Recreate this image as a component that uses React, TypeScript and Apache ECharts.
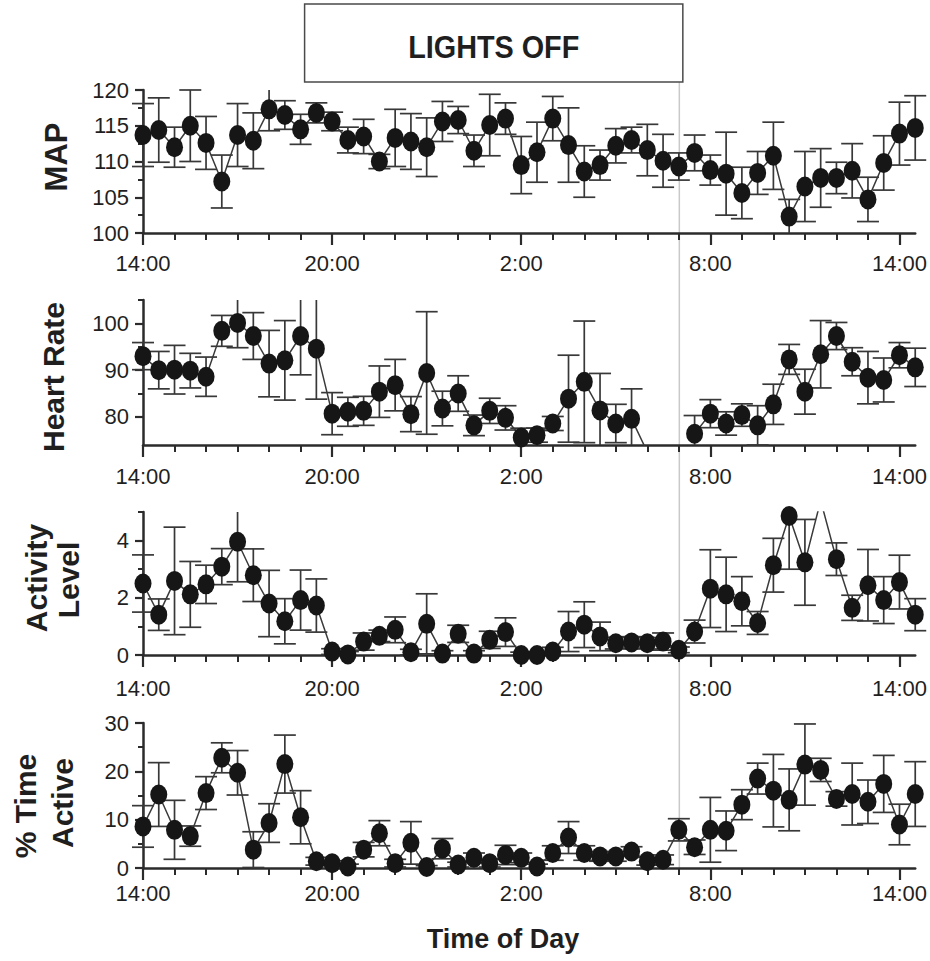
import React, { useEffect, useRef } from "react";
import * as echarts from "echarts";

// Half-hourly sampling, 14:00 on day one through 14:30 on day two (hours since midnight of day one)
const SAMPLE_HOURS: number[] = Array.from({ length: 50 }, (_, i) => 14 + i * 0.5);

const MAJOR_HOURS = [14, 20, 26, 32, 38];
const MINOR_HOURS = [15, 16, 17, 18, 19, 21, 22, 23, 24, 25, 27, 28, 29, 30, 31, 33, 34, 35, 36, 37];
const LIGHTS_OFF_START = 19;
const LIGHTS_OFF_END = 31;

// Mean arterial pressure (mmHg)
const MAP_MEAN = [113.7, 114.4, 112.0, 115.0, 112.6, 107.2, 113.7, 112.9, 117.3, 116.5, 114.5, 116.8, 115.6, 113.0, 113.5, 110.0, 113.3, 112.8, 112.0, 115.6, 115.8, 111.5, 115.1, 116.0, 109.5, 111.3, 116.0, 112.3, 108.6, 109.5, 112.2, 113.0, 111.6, 110.1, 109.3, 111.2, 108.8, 108.3, 105.6, 108.4, 110.8, 102.3, 106.5, 107.7, 107.7, 108.7, 104.7, 109.8, 113.9, 114.7];
const MAP_SEM = [4.4, 4.5, 2.8, 5.0, 3.7, 3.7, 4.4, 3.9, 3.0, 2.0, 2.1, 1.4, 1.3, 1.8, 2.4, 1.0, 4.0, 3.9, 4.1, 2.8, 1.9, 2.2, 4.3, 2.2, 4.0, 4.2, 3.1, 5.2, 3.6, 2.1, 2.4, 1.8, 3.6, 3.7, 1.9, 2.5, 2.1, 5.8, 3.6, 3.0, 4.7, 2.4, 4.9, 4.1, 2.2, 3.8, 3.1, 3.8, 4.4, 4.5];

// Heart rate (bpm); low values around dawn fall below the axis floor
const HR_MEAN = [93.0, 90.0, 90.1, 89.9, 88.6, 98.4, 100.1, 97.3, 91.4, 92.1, 97.3, 94.6, 80.7, 81.1, 81.3, 85.4, 86.8, 80.6, 89.4, 81.8, 85.0, 78.2, 81.3, 79.8, 75.6, 76.1, 78.6, 83.9, 87.5, 81.4, 78.6, 79.6, 72.5, null, null, 76.4, 80.7, 78.6, 80.4, 78.2, 82.7, 92.3, 85.4, 93.4, 97.3, 91.8, 88.4, 87.9, 93.2, 90.6];
const HR_SEM = [2.9, 4.0, 5.2, 3.7, 4.2, 3.3, 5.3, 5.0, 7.1, 8.5, 8.3, 10.8, 4.5, 3.1, 3.1, 5.5, 5.5, 3.75, 13.1, 3.7, 3.8, 2.2, 2.7, 2.6, 2.0, 1.5, 1.5, 9.3, 13.0, 7.9, 4.1, 6.4, null, null, null, 3.9, 3.0, 2.5, 2.4, 4.2, 4.3, 3.2, 4.8, 7.2, 2.9, 3.0, 5.6, 4.7, 2.7, 4.1];

// Activity level (counts)
const ACT_MEAN = [2.5, 1.41, 2.59, 2.12, 2.47, 3.09, 3.96, 2.79, 1.8, 1.18, 1.92, 1.73, 0.12, 0.02, 0.47, 0.67, 0.88, 0.1, 1.09, 0.05, 0.74, 0.05, 0.53, 0.8, 0.0, 0.0, 0.12, 0.82, 1.06, 0.65, 0.41, 0.44, 0.41, 0.47, 0.18, 0.82, 2.32, 2.12, 1.88, 1.12, 3.14, 4.86, 3.24, 5.4, 3.35, 1.65, 2.44, 1.92, 2.55, 1.41];
const ACT_SEM = [1.0, 0.55, 1.88, 1.15, 0.67, 0.63, 1.4, 0.92, 1.16, 0.79, 1.05, 0.93, 0.1, 0.1, 0.3, 0.2, 0.45, 0.1, 1.05, 0.1, 0.3, 0.1, 0.3, 0.5, 0.1, 0.1, 0.15, 0.7, 0.8, 0.5, 0.2, 0.2, 0.2, 0.3, 0.1, 0.4, 1.36, 1.3, 0.86, 0.4, 0.94, 1.86, 1.5, null, 0.57, 0.44, 1.25, 0.82, 0.94, 0.56];

// Percentage of time active
const PCT_MEAN = [8.6, 15.2, 7.9, 6.6, 15.5, 22.8, 19.7, 3.8, 9.3, 21.5, 10.5, 1.4, 1.0, 0.3, 3.8, 7.2, 1.0, 5.2, 0.2, 4.0, 0.7, 2.1, 1.0, 2.7, 2.1, 0.3, 3.1, 6.3, 3.1, 2.4, 2.4, 3.4, 1.4, 1.7, 7.9, 4.3, 7.9, 7.7, 13.1, 18.5, 16.0, 14.1, 21.4, 20.3, 14.3, 15.3, 13.7, 17.4, 9.0, 15.3];
const PCT_SEM = [4.3, 6.6, 6.1, 2.1, 3.4, 3.1, 4.6, 3.7, 4.0, 6.0, 5.5, 0.8, 0.5, 0.5, 1.5, 2.6, 0.8, 4.4, 0.3, 2.1, 0.5, 1.0, 0.8, 2.0, 1.0, 0.5, 1.5, 3.3, 1.5, 1.0, 1.0, 1.0, 0.8, 1.0, 2.3, 1.5, 6.7, 4.1, 3.1, 3.2, 7.5, 6.4, 8.4, 2.4, 1.5, 6.4, 4.5, 5.9, 4.2, 6.7];

const MAP_TICKS = [100, 105, 110, 115, 120];
const MAP_MINOR = [102.5, 107.5, 112.5, 117.5];
const HR_TICKS = [80, 90, 100];
const HR_MINOR = [85, 95, 105];
const ACT_TICKS = [0, 2, 4];
const ACT_MINOR = [1, 3, 5];
const PCT_TICKS = [0, 10, 20, 30];
const PCT_MINOR = [5, 15, 25];

const FONT = "'Liberation Sans', Arial, Helvetica, sans-serif";
const INK = "#1f1f1f";
const AXIS = "#2b2b2b";

type Panel = {
  mean: (number | null)[];
  sem: (number | null)[];
  min: number;
  max: number;
  ticks: number[];
  minor: number[];
  top: number;
  height: number;
  labelGap: number;
};

const PANELS: Panel[] = [
  { mean: MAP_MEAN, sem: MAP_SEM, min: 100, max: 120, ticks: MAP_TICKS, minor: MAP_MINOR, top: 90, height: 143, labelGap: 19 },
  { mean: HR_MEAN, sem: HR_SEM, min: 74, max: 105, ticks: HR_TICKS, minor: HR_MINOR, top: 300, height: 145, labelGap: 20 },
  { mean: ACT_MEAN, sem: ACT_SEM, min: 0, max: 5, ticks: ACT_TICKS, minor: ACT_MINOR, top: 512, height: 143, labelGap: 22 },
  { mean: PCT_MEAN, sem: PCT_SEM, min: 0, max: 30, ticks: PCT_TICKS, minor: PCT_MINOR, top: 723, height: 145, labelGap: 14 },
];

const clockLabel = (v: number) => `${Math.round(v) % 24}:00`;

const DOT = "path://M0,10 A10,10 0 1,1 20,10 A10,10 0 1,1 0,10 Z";

function errorBars(k: number, p: Panel) {
  const data: number[][] = [];
  p.mean.forEach((v, i) => {
    const e = p.sem[i];
    if (v != null && e != null) data.push([SAMPLE_HOURS[i], v, e]);
  });
  return {
    type: "custom",
    xAxisIndex: 2 * k,
    yAxisIndex: 2 * k,
    z: 2,
    silent: true,
    renderItem: (params: any, api: any) => {
      const x = api.value(0);
      const v = api.value(1);
      const e = api.value(2);
      const hi = api.coord([x, v + e]);
      const lo = api.coord([x, v - e]);
      const cs = params.coordSys;
      const yTop = cs.y;
      const yBot = cs.y + cs.height;
      const t = Math.max(hi[1], yTop);
      const b = Math.min(lo[1], yBot);
      if (t >= b) return null;
      const cx = hi[0];
      const style = { stroke: "#383838", lineWidth: 1.7 };
      const children: any[] = [
        { type: "line", shape: { x1: cx, y1: t, x2: cx, y2: b }, style },
      ];
      const half = 11;
      if (hi[1] >= yTop) children.push({ type: "line", shape: { x1: cx - half, y1: hi[1], x2: cx + half, y2: hi[1] }, style });
      if (lo[1] <= yBot) children.push({ type: "line", shape: { x1: cx - half, y1: lo[1], x2: cx + half, y2: lo[1] }, style });
      return { type: "group", children };
    },
    data,
  };
}

function meanLine(k: number, p: Panel) {
  return {
    type: "line",
    xAxisIndex: 2 * k,
    yAxisIndex: 2 * k,
    z: 3,
    clip: true,
    silent: true,
    symbol: DOT,
    symbolSize: [17, 20],
    showAllSymbol: true,
    itemStyle: { color: "#161616" },
    lineStyle: { color: "#3a3a3a", width: 1.5 },
    data: p.mean.map((v, i) => [SAMPLE_HOURS[i], v]),
  };
}

function buildOption() {
  const grid: any[] = [];
  const xAxis: any[] = [];
  const yAxis: any[] = [];
  const series: any[] = [];

  PANELS.forEach((p, k) => {
    grid.push({ left: 143, right: 14, top: p.top, height: p.height });

    xAxis.push({
      type: "value",
      gridIndex: k,
      position: "bottom",
      min: 14,
      max: 38.5,
      axisLine: { show: true, onZero: false, lineStyle: { color: AXIS, width: 2.5 } },
      axisTick: { show: true, customValues: MAJOR_HOURS, length: 12, lineStyle: { color: AXIS, width: 2.2 } },
      axisLabel: {
        customValues: MAJOR_HOURS,
        formatter: clockLabel,
        fontSize: 22,
        fontFamily: FONT,
        color: INK,
        margin: p.labelGap,
      },
      splitLine: { show: false },
    });
    xAxis.push({
      type: "value",
      gridIndex: k,
      position: "bottom",
      min: 14,
      max: 38.5,
      axisLine: { show: false, onZero: false },
      axisTick: { show: true, customValues: MINOR_HOURS, length: 7, lineStyle: { color: AXIS, width: 2 } },
      axisLabel: { show: false },
      splitLine: { show: false },
    });

    yAxis.push({
      type: "value",
      gridIndex: k,
      position: "left",
      min: p.min,
      max: p.max,
      axisLine: { show: true, onZero: false, lineStyle: { color: AXIS, width: 2.5 } },
      axisTick: { show: true, customValues: p.ticks, length: 8, lineStyle: { color: AXIS, width: 2.2 } },
      axisLabel: {
        customValues: p.ticks,
        fontSize: 22,
        fontFamily: FONT,
        color: INK,
        margin: 14,
      },
      splitLine: { show: false },
    });
    yAxis.push({
      type: "value",
      gridIndex: k,
      position: "left",
      min: p.min,
      max: p.max,
      axisLine: { show: false, onZero: false },
      axisTick: { show: true, customValues: p.minor, length: 5, lineStyle: { color: AXIS, width: 2 } },
      axisLabel: { show: false },
      splitLine: { show: false },
    });

    series.push(errorBars(k, p));
    series.push(meanLine(k, p));
  });

  return {
    animation: false,
    backgroundColor: "#ffffff",
    grid,
    xAxis,
    yAxis,
    series,
  };
}

function titleText(text: string, x: number, y: number, size: number, rotate: boolean) {
  return {
    type: "text",
    x,
    y,
    rotation: rotate ? Math.PI / 2 : 0,
    z: 10,
    silent: true,
    style: {
      text,
      fill: INK,
      font: `bold ${size}px ${FONT}`,
      fontSize: size,
      fontWeight: "bold",
      fontFamily: FONT,
      align: "center",
      verticalAlign: "middle",
      textAlign: "center",
      textVerticalAlign: "middle",
    },
  };
}

export default function App() {
  const ref = useRef<HTMLDivElement>(null);

  useEffect(() => {
    if (!ref.current) return;
    const chart = echarts.init(ref.current, undefined, { renderer: "svg" });
    chart.setOption(buildOption() as any);

    const offX = chart.convertToPixel({ xAxisIndex: 0 }, LIGHTS_OFF_START) as number;
    const onX = chart.convertToPixel({ xAxisIndex: 0 }, LIGHTS_OFF_END) as number;
    const last = PANELS[PANELS.length - 1];
    const boxTop = 4;
    const boxBottom = 82;

    chart.setOption({
      graphic: [
        {
          type: "rect",
          z: 1,
          silent: true,
          shape: { x: offX + 4, y: boxTop, width: onX - offX, height: boxBottom - boxTop },
          style: { fill: "#ffffff", stroke: "#4a4a4a", lineWidth: 1.5 },
        },
        {
          type: "text",
          x: (offX + onX) / 2 + 4,
          y: (boxTop + boxBottom) / 2 + 3,
          scaleX: 0.9,
          z: 2,
          silent: true,
          style: {
            text: "LIGHTS OFF",
            fill: INK,
            font: `bold 32px ${FONT}`,
            fontSize: 32,
            fontWeight: "bold",
            fontFamily: FONT,
            align: "center",
            verticalAlign: "middle",
            textAlign: "center",
            textVerticalAlign: "middle",
          },
        },
        {
          type: "line",
          z: 0,
          silent: true,
          shape: { x1: onX + 0.5, y1: boxBottom, x2: onX + 0.5, y2: last.top + last.height + 2 },
          style: { stroke: "#c9c9c9", lineWidth: 1.5 },
        },
        titleText("MAP", 56, 157, 31, true),
        titleText("Heart Rate", 53, 377, 30, true),
        titleText("Activity", 36, 578, 30, true),
        titleText("Level", 68, 580, 30, true),
        titleText("% Time", 25, 806, 30, true),
        titleText("Active", 62, 803, 30, true),
        titleText("Time of Day", 503, 939, 27, false),
      ],
    } as any);

    return () => chart.dispose();
  }, []);

  return (
    <div
      ref={ref}
      style={{ position: "absolute", left: 0, top: 0, width: 930, height: 961, background: "#ffffff" }}
    />
  );
}
